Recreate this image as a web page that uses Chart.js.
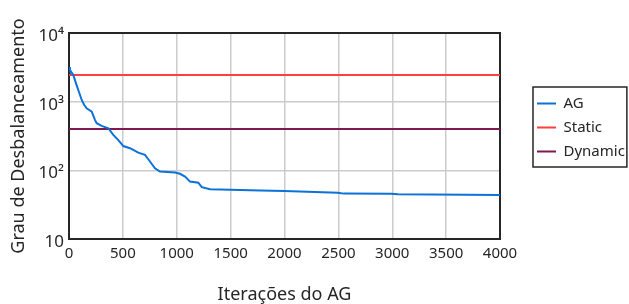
<!DOCTYPE html>
<html>
<head>
<meta charset="utf-8">
<script src="https://cdn.jsdelivr.net/npm/chart.js@4/dist/chart.umd.min.js"></script>
<style>
  html, body { margin: 0; padding: 0; background: #fff; }
  #wrap { width: 629px; height: 304px; position: relative; }
</style>
</head>
<body>
<div id="wrap"><canvas id="c" width="629" height="304"></canvas></div>
<script>
// ---- data ----
const agIterations = [0, 9, 40, 65, 86, 118, 140, 164, 211, 241, 257, 303, 365, 411, 458, 504, 566, 643, 705, 736, 798, 845, 984, 1030, 1077, 1123, 1200, 1232, 1309, 1500, 1773, 2000, 2494, 2552, 2988, 3053, 4000];
const agValues     = [3200, 2890, 2450, 1850, 1480, 1059, 900, 802, 715, 542, 485, 443, 410, 328, 276, 226, 210, 181, 168, 145, 107, 96, 93, 89, 81, 68.5, 66, 57, 53, 52, 51, 50, 47.3, 45.8, 45.5, 45, 43.9];
const staticIterations  = [0, 4000];
const staticValues      = [2450, 2450];
const dynamicIterations = [0, 4000];
const dynamicValues     = [400, 400];
const seriesNames = ['AG', 'Static', 'Dynamic'];
const xTickStep = 500;
const xMin = 0, xMax = 4000;
const yTickValues = [10, 100, 1000, 10000];
const yTickLabels = ['10', '10\u00B2', '10\u00B3', '10\u2074'];
const xTitle = 'Iterações do AG';
const yTitle = 'Grau de Desbalanceamento';

const toPoints = (xs, ys) => xs.map((x, i) => ({ x: x, y: ys[i] }));

const FONT = '"Noto Sans", "Open Sans", sans-serif';
const TXT = '#262626';
const GRID = '#cbcbcb';
const SPINE = '#262626';

const legendBoxPlugin = {
  id: 'legendBox',
  afterLayout(chart) {
    const lg = chart.legend;
    if (!lg) return;
    const w = lg.width, h = lg.height;
    lg.left = 528; lg.right = 528 + w;
    lg.top = 87; lg.bottom = 87 + h;
  },
  afterDraw(chart) {
    const lg = chart.legend;
    if (!lg || !lg.legendHitBoxes || !lg.legendHitBoxes.length) return;
    const hb = lg.legendHitBoxes;
    let maxRight = 0;
    hb.forEach(b => { maxRight = Math.max(maxRight, b.left + b.width); });
    const x0 = hb[0].left - 4;
    const x1 = Math.min(chart.width - 2, maxRight + 2);
    const y0 = hb[0].top - 9;
    const last = hb[hb.length - 1];
    const y1 = last.top + last.height + 8;
    const ctx = chart.ctx;
    ctx.save();
    ctx.strokeStyle = SPINE;
    ctx.lineWidth = 1.5;
    ctx.strokeRect(x0, y0, x1 - x0, y1 - y0);
    ctx.restore();
  }
};

new Chart(document.getElementById('c'), {
  type: 'line',
  data: {
    datasets: [
      { label: seriesNames[0], data: toPoints(agIterations, agValues), borderColor: '#0a72d8', backgroundColor: '#0a72d8', borderWidth: 2, pointRadius: 0, tension: 0 },
      { label: seriesNames[1], data: toPoints(staticIterations, staticValues), borderColor: '#ff4040', backgroundColor: '#ff4040', borderWidth: 2, pointRadius: 0 },
      { label: seriesNames[2], data: toPoints(dynamicIterations, dynamicValues), borderColor: '#7d1a52', backgroundColor: '#7d1a52', borderWidth: 2, pointRadius: 0 }
    ]
  },
  options: {
    responsive: false,
    animation: false,
    devicePixelRatio: 1,
    layout: { padding: 0 },
    plugins: {
      legend: {
        display: true,
        position: 'right',
        align: 'start',
        labels: {
          usePointStyle: true,
          pointStyle: 'line',
          pointStyleWidth: 19,
          padding: 9,
          color: TXT,
          font: { family: FONT, size: 15 }
        }
      },
      tooltip: { enabled: false }
    },
    scales: {
      x: {
        type: 'linear',
        position: 'bottom',
        min: xMin, max: xMax,
        ticks: { stepSize: xTickStep, color: TXT, padding: 6, maxRotation: 0, font: { family: FONT, size: 15 },
                 callback(v) { return String(v); } },
        grid: { color: GRID, lineWidth: 1.5, drawTicks: false },
        border: { color: SPINE, width: 2 },
        title: { display: true, text: xTitle, color: TXT, font: { family: FONT, size: 18 }, padding: { top: 0, bottom: -2 } },
        afterFit(s) { s.height = 65; }
      },
      y: {
        type: 'logarithmic',
        position: 'left',
        min: 10, max: 10000,
        afterBuildTicks(s) { s.ticks = yTickValues.map(v => ({ value: v, major: true })); },
        ticks: {
          color: TXT, padding: 5, labelOffset: 3,
          font: { family: FONT, size: 17 },
          callback(v) { const i = yTickValues.indexOf(v); return i >= 0 ? yTickLabels[i] : ''; }
        },
        grid: { color: GRID, lineWidth: 1.5, drawTicks: false },
        border: { color: SPINE, width: 2 },
        title: { display: true, text: yTitle, color: TXT, font: { family: FONT, size: 18 }, padding: { top: 8, bottom: 0 } },
        afterFit(s) { s.width = 69; }
      },
      x2: {
        type: 'linear', position: 'top', min: xMin, max: xMax,
        grid: { display: false, drawTicks: false },
        ticks: { display: false },
        border: { color: SPINE, width: 2 },
        afterFit(s) { s.height = 33; }
      },
      y2: {
        type: 'linear', position: 'right', min: 0, max: 1,
        grid: { display: false, drawTicks: false },
        ticks: { display: false },
        border: { color: SPINE, width: 2 },
        afterFit(s) {
          const lw = s.chart.legend ? s.chart.legend.width : 0;
          s.width = Math.max(0, s.chart.width - 500 - lw);
        }
      }
    }
  },
  plugins: [legendBoxPlugin]
});
</script>
</body>
</html>
